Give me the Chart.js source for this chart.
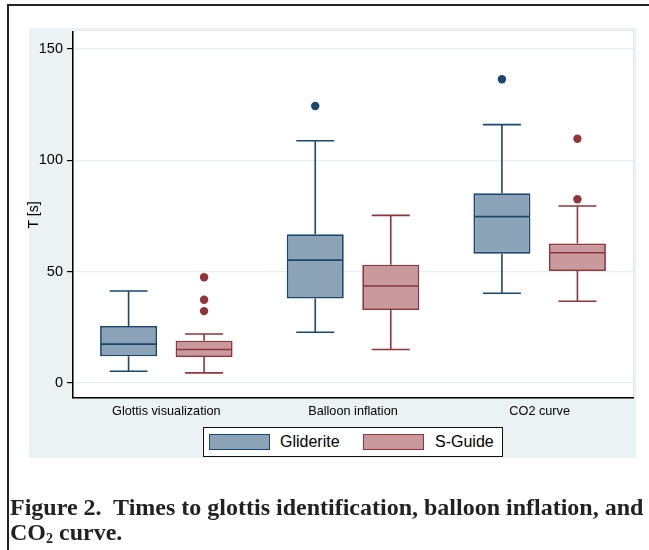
<!DOCTYPE html>
<html>
<head>
<meta charset="utf-8">
<script src="https://cdn.jsdelivr.net/npm/chart.js@4"></script>
<style>
html,body{margin:0;padding:0;background:#fff;width:649px;height:550px;overflow:hidden;position:relative;}
#frame{position:absolute;left:7px;top:4px;width:700px;height:600px;border-top:2px solid #222;border-left:2px solid #222;}
#cv{position:absolute;left:0;top:0;}
#legend{position:absolute;left:203px;top:427px;width:298px;height:28px;border:1.5px solid #111;background:#fff;font-family:"Liberation Sans",Arial,sans-serif;font-size:16px;color:#000;}
.sw{position:absolute;top:6px;width:59px;height:14px;border:1.6px solid;}
.lt{position:absolute;top:4px;line-height:20px;}
#caption{position:absolute;left:10px;top:495px;font-family:"Liberation Serif","Times New Roman",serif;font-weight:bold;font-size:24px;line-height:25px;color:#222;white-space:nowrap;}
#caption sub{font-size:14px;vertical-align:-3px;line-height:0;}
</style>
</head>
<body>
<div id="frame"></div>
<canvas id="cv" width="649" height="550"></canvas>
<div id="legend">
  <div class="sw" style="left:5px;background:#8ca3b7;border-color:#1a476f;"></div>
  <div class="lt" style="left:76px;">Gliderite</div>
  <div class="sw" style="left:159px;background:#c89a9d;border-color:#90353b;"></div>
  <div class="lt" style="left:231px;">S-Guide</div>
</div>
<div id="caption">Figure 2.&nbsp; Times to glottis identification, balloon inflation, and<br>CO<sub>2</sub> curve.</div>
<script>
const categories = ['Glottis visualization', 'Balloon inflation', 'CO2 curve'];
const yTicks = [0, 50, 100, 150];

const glideriteMin    = [5.3, 22.8, 40.3];
const glideriteQ1     = [12.0, 38.0, 58.1];
const glideriteMedian = [17.5, 55.2, 74.7];
const glideriteQ3     = [25.6, 66.8, 85.2];
const glideriteMax    = [41.3, 108.8, 116.0];
const glideriteOutliers = [[], [124.4], [136.4]];

const sguideMin    = [4.6, 15.1, 36.7];
const sguideQ1     = [11.7, 32.8, 50.3];
const sguideMedian = [15.1, 43.6, 58.5];
const sguideQ3     = [19.0, 53.1, 62.7];
const sguideMax    = [22.0, 75.3, 79.5];
const sguideOutliers = [[47.5, 37.4, 32.3], [], [109.7, 82.5]];

const NAVY = '#1a476f', NAVY_FILL = '#8ca3b7';
const MAROON = '#90353b', MAROON_FILL = '#c89a9d';

const series = [
  {min: glideriteMin, q1: glideriteQ1, med: glideriteMedian, q3: glideriteQ3, max: glideriteMax, out: glideriteOutliers, color: NAVY},
  {min: sguideMin, q1: sguideQ1, med: sguideMedian, q3: sguideQ3, max: sguideMax, out: sguideOutliers, color: MAROON}
];

const panelPlugin = {
  id: 'panel',
  beforeDraw(chart) {
    const ctx = chart.ctx, a = chart.chartArea;
    ctx.save();
    ctx.fillStyle = '#eaf2f3';
    ctx.fillRect(29, 28, 607, 430);
    ctx.fillStyle = '#ffffff';
    ctx.fillRect(a.left, 30, a.right - a.left, a.bottom - 30);
    ctx.strokeStyle = '#e2ebee';
    ctx.lineWidth = 1;
    ctx.strokeRect(a.left + 0.5, 30.5, a.right - a.left, a.bottom - 30);
    ctx.restore();
  }
};

const boxPlugin = {
  id: 'boxes',
  afterDatasetsDraw(chart) {
    const ctx = chart.ctx, ys = chart.scales.y;
    series.forEach((s, di) => {
      const meta = chart.getDatasetMeta(di);
      meta.data.forEach((bar, i) => {
        const x = bar.x, w = bar.width, cap = w * 2 / 3;
        ctx.save();
        ctx.strokeStyle = s.color;
        ctx.lineWidth = 1.6;
        ctx.beginPath();
        const ym = ys.getPixelForValue(s.med[i]);
        ctx.moveTo(x - w / 2 + 1, ym); ctx.lineTo(x + w / 2 - 1, ym);
        const yq3 = ys.getPixelForValue(s.q3[i]), yMax = ys.getPixelForValue(s.max[i]);
        ctx.moveTo(x, yq3); ctx.lineTo(x, yMax);
        ctx.moveTo(x - cap / 2, yMax); ctx.lineTo(x + cap / 2, yMax);
        const yq1 = ys.getPixelForValue(s.q1[i]), yMin = ys.getPixelForValue(s.min[i]);
        ctx.moveTo(x, yq1); ctx.lineTo(x, yMin);
        ctx.moveTo(x - cap / 2, yMin); ctx.lineTo(x + cap / 2, yMin);
        ctx.stroke();
        ctx.fillStyle = s.color;
        s.out[i].forEach(v => {
          ctx.beginPath();
          ctx.arc(x, ys.getPixelForValue(v), 4.2, 0, Math.PI * 2);
          ctx.fill();
        });
        ctx.restore();
      });
    });
  }
};

new Chart(document.getElementById('cv'), {
  type: 'bar',
  data: {
    labels: categories,
    datasets: [
      {label: 'Gliderite', data: glideriteQ1.map((v, i) => [v, glideriteQ3[i]]),
       backgroundColor: NAVY_FILL, borderColor: NAVY, borderWidth: 1.8, borderSkipped: false},
      {label: 'S-Guide', data: sguideQ1.map((v, i) => [v, sguideQ3[i]]),
       backgroundColor: MAROON_FILL, borderColor: MAROON, borderWidth: 1.8, borderSkipped: false}
    ]
  },
  options: {
    responsive: false,
    animation: false,
    devicePixelRatio: 1,
    categoryPercentage: 0.809,
    barPercentage: 0.755,
    layout: {padding: {left: 0, right: 16, top: 32, bottom: 0}},
    plugins: {legend: {display: false}, tooltip: {enabled: false}},
    scales: {
      x: {
        grid: {display: false, drawTicks: false},
        border: {display: true, color: '#000', width: 1.5},
        ticks: {color: '#000', padding: 6, font: {family: 'Liberation Sans, Arial, sans-serif', size: 12.7}},
        afterFit(scale) { scale.height = 152; }
      },
      y: {
        min: -6.7, max: 157.6,
        afterBuildTicks(scale) { scale.ticks = yTicks.map(v => ({value: v})); },
        grid: {color: '#e6eef0', lineWidth: 1.2, tickLength: 6, tickColor: '#000', tickWidth: 1.2},
        border: {display: true, color: '#000', width: 1.5},
        ticks: {color: '#000', padding: 4, font: {family: 'Liberation Sans, Arial, sans-serif', size: 14.5}},
        title: {display: true, text: 'T [s]', color: '#000', padding: {top: 26, bottom: 0}, font: {family: 'Liberation Sans, Arial, sans-serif', size: 14}},
        afterFit(scale) { scale.width = 73; }
      }
    }
  },
  plugins: [panelPlugin, boxPlugin]
});
</script>
</body>
</html>
